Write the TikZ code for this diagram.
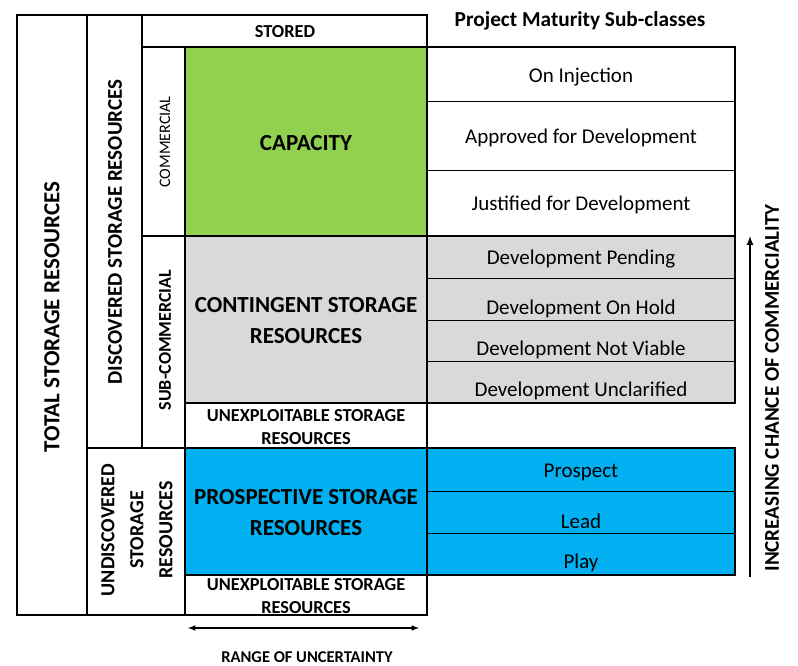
\documentclass[tikz,border=0pt]{standalone}
\usepackage{fontspec}
\setmainfont{Carlito}
\usepackage{xcolor}
\usetikzlibrary{arrows, calc}

\definecolor{capgreen}{HTML}{92D050}
\definecolor{contgray}{HTML}{D9D9D9}
\definecolor{prospblue}{HTML}{00B0F0}

\tikzset{
    frame/.style={line width=2pt},
    rowline/.style={line width=1pt},
    classtxt/.style={font=\fontsize{23}{31}\selectfont\bfseries, align=center},
    smalltxt/.style={font=\fontsize{18.3}{23}\selectfont\bfseries, align=center},
    subtxt/.style={font=\fontsize{21}{24}\selectfont},
    sidetxt/.style={font=\fontsize{21}{29}\selectfont\bfseries, align=center, rotate=90}
}

\begin{document}
\begin{tikzpicture}[x=1pt, y=-1pt]
        \useasboundingbox (0,0) rectangle (798,665);

        % coloured blocks
        \fill[capgreen] (185,47) rectangle (427,236);
        \fill[contgray] (185,236) rectangle (427,403);
        \fill[contgray] (427,236) rectangle (735,403);
        \fill[prospblue] (185,448) rectangle (427,575);
        \fill[prospblue] (427,448) rectangle (735,575);

        % left frame
        \draw[frame] (17,15) rectangle (427,615);
        \draw[frame] (87,15) -- (87,615);
        \draw[frame] (142,15) -- (142,448);
        \draw[frame] (185,47) -- (185,615);
        \draw[frame] (142,47) -- (427,47);
        \draw[frame] (142,236) -- (427,236);
        \draw[frame] (185,403) -- (427,403);
        \draw[frame] (87,448) -- (427,448);
        \draw[frame] (185,575) -- (427,575);

        % sub-class table
        \draw[frame] (427,47) -- (735,47) -- (735,236);
        \draw[rowline] (427,101) -- (735,101);
        \draw[rowline] (427,170) -- (735,170);
        \draw[frame] (427,236) rectangle (735,403);
        \draw[rowline] (427,278) -- (735,278);
        \draw[rowline] (427,320) -- (735,320);
        \draw[rowline] (427,361) -- (735,361);
        \draw[frame] (427,448) rectangle (735,575);
        \draw[rowline] (427,491) -- (735,491);
        \draw[rowline] (427,533) -- (735,533);

        % class labels
        \node[sidetxt, font=\fontsize{23}{29}\selectfont\bfseries] (total) at (52,317) {TOTAL STORAGE RESOURCES};
        \node[sidetxt] (disc) at (115,232) {DISCOVERED STORAGE RESOURCES};
        \node[sidetxt, font=\fontsize{20}{29}\selectfont\bfseries] (undisc) at (137,530) {UNDISCOVERED\\STORAGE\\RESOURCES};
        \node[rotate=90, font=\fontsize{16}{20}\selectfont] (comm) at (165,142) {COMMERCIAL};
        \node[rotate=90, font=\fontsize{18}{20}\selectfont\bfseries] (subcomm) at (165,340) {SUB-COMMERCIAL};

        \node[smalltxt] (stored) at (285,32) {STORED};
        \node[classtxt] (capacity) at (306,143) {CAPACITY};
        \node[classtxt] (contingent) at (306,321) {CONTINGENT STORAGE\\RESOURCES};
        \node[smalltxt] (unexpa) at (306,427) {UNEXPLOITABLE STORAGE\\RESOURCES};
        \node[classtxt] (prospective) at (306,513) {PROSPECTIVE STORAGE\\RESOURCES};
        \node[smalltxt] (unexpb) at (306,596) {UNEXPLOITABLE STORAGE\\RESOURCES};

        % sub-classes
        \node[font=\fontsize{21.3}{24}\selectfont\bfseries] (maturity) at (580,21) {Project Maturity Sub-classes};
        \node[subtxt] (injection) at (581,77) {On Injection};
        \node[subtxt] (approved) at (581,138) {Approved for Development};
        \node[subtxt] (justified) at (581,205) {Justified for Development};
        \node[subtxt] (pending) at (581,259) {Development Pending};
        \node[subtxt] (onhold) at (581,309) {Development On Hold};
        \node[subtxt] (notviable) at (581,350) {Development Not Viable};
        \node[subtxt] (unclarified) at (581,391) {Development Unclarified};
        \node[subtxt] (prospect) at (581,472) {Prospect};
        \node[subtxt] (lead) at (581,521) {Lead};
        \node[subtxt] (play) at (581,563) {Play};

        % arrows
        \coordinate (chanceLow) at (750,577);
        \coordinate (chanceHigh) at (750,236);
        \draw[line width=2pt, -latex] (chanceLow) -- (chanceHigh);
        \node[sidetxt] (chance) at (772,388) {INCREASING CHANCE OF COMMERCIALITY};

        \coordinate (rangeLow) at (188,628);
        \coordinate (rangeHigh) at (419,628);
        \draw[line width=1.5pt, latex-latex] (rangeLow) -- (rangeHigh);
        \node[font=\fontsize{16.5}{20}\selectfont\bfseries] (range) at (307,657) {RANGE OF UNCERTAINTY};
    \end{tikzpicture}
\end{document}
